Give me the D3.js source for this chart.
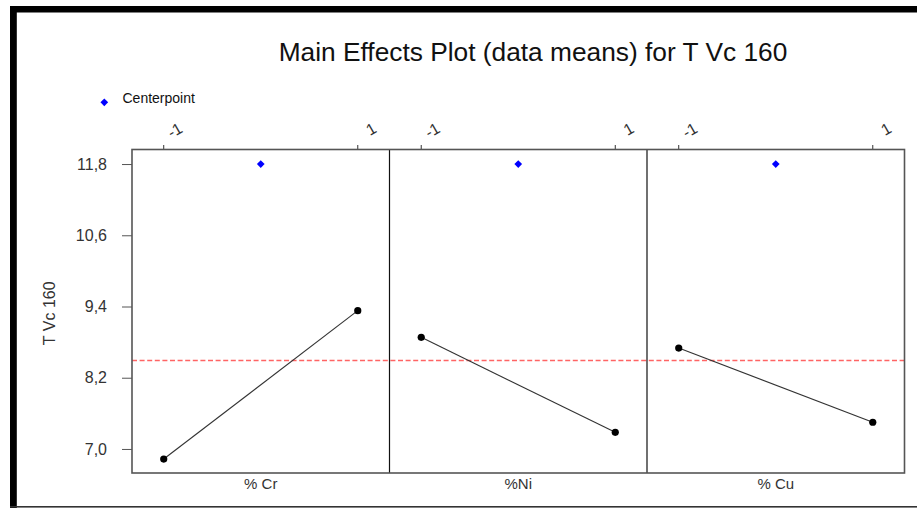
<!DOCTYPE html>
<html><head><meta charset="utf-8">
<script src="https://cdn.jsdelivr.net/npm/d3@7"></script>
<style>html,body{margin:0;padding:0;background:#fff;}svg{display:block;font-family:Arial,"Liberation Sans",sans-serif;}</style>
</head><body>
<svg id="chart" width="917" height="508"></svg>
<script>
const title = "Main Effects Plot (data means) for T Vc 160";
const yLabel = "T Vc 160";
const factors = ["% Cr", "%Ni", "% Cu"];
const levels = [-1, 1];
const levelLabels = ["-1", "1"];
const lowMeans = [6.83, 8.88, 8.70];
const highMeans = [9.33, 7.28, 7.45];
const centerpointMeans = [11.8, 11.8, 11.8];
const grandMean = 8.49;
const yTicks = [7.0, 8.2, 9.4, 10.6, 11.8];
const legendLabel = "Centerpoint";

(function () {
const svg = d3.select("#chart");
const W = 917, H = 508;
const pL = 132, pR = 904.5, pT = 149.5, pB = 473;

// frame
svg.append("rect").attr("x", 0).attr("y", 0).attr("width", W).attr("height", H).attr("fill", "#fff");
svg.append("rect").attr("x", 10).attr("y", 6).attr("width", W - 10).attr("height", 6.5).attr("fill", "#000");
svg.append("rect").attr("x", 10).attr("y", 6).attr("width", 6.8).attr("height", H - 6).attr("fill", "#000");
svg.append("rect").attr("x", 10).attr("y", 506).attr("width", W - 10).attr("height", 1.6).attr("fill", "#333");

const y = d3.scaleLinear().domain([6.595, 12.045]).range([pB, pT]);
const xBand = d3.scaleBand().domain(factors).range([pL, pR]);
const bw = xBand.bandwidth();
const xIn = d3.scaleLinear().domain([-1.327, 1.327]).range([0, bw]);

// title
svg.append("text").attr("x", 533).attr("y", 61).attr("text-anchor", "middle")
  .attr("font-size", 26.3).attr("fill", "#111").text(title);

// legend
const diamond = d3.symbol().type(d3.symbolDiamond2).size(38);
svg.append("path").attr("d", diamond).attr("transform", "translate(104.3,102.3)").attr("fill", "#0000ff");
svg.append("text").attr("x", 122.5).attr("y", 102.5).attr("font-size", 14).attr("fill", "#111").text(legendLabel);

// y axis label
svg.append("text").attr("transform", `translate(55,${(pT + pB) / 2 + 2}) rotate(-90)`)
  .attr("text-anchor", "middle").attr("font-size", 16).attr("fill", "#333").text(yLabel);

// y axis ticks
const yAxis = d3.axisLeft(y).tickValues(yTicks).tickSize(10).tickPadding(15)
  .tickFormat(d => d3.format(".1f")(d).replace(".", ","));
const ya = svg.append("g").attr("transform", `translate(${pL},0)`).call(yAxis);
ya.select(".domain").remove();
ya.selectAll("line").attr("stroke", "#555");
ya.selectAll("text").attr("font-size", 16).attr("fill", "#333").attr("font-family", "Arial, 'Liberation Sans', sans-serif");

// reference mean line
svg.append("line").attr("x1", pL).attr("x2", pR).attr("y1", y(grandMean)).attr("y2", y(grandMean))
  .attr("stroke", "#ff6464").attr("stroke-width", 1.6).attr("stroke-dasharray", "5,2.6");

// panels
factors.forEach((f, i) => {
  const x0 = xBand(f);
  const g = svg.append("g").attr("transform", `translate(${x0},0)`);
  levels.forEach((lv, j) => {
    g.append("line").attr("x1", xIn(lv)).attr("x2", xIn(lv)).attr("y1", pT - 4.5).attr("y2", pT).attr("stroke", "#333");
    g.append("text").attr("transform", `translate(${xIn(lv) + 20},131.5) rotate(-30)`)
      .attr("text-anchor", "end").attr("font-size", 16).attr("fill", "#333").text(levelLabels[j]);
  });
  const pts = [[levels[0], lowMeans[i]], [levels[1], highMeans[i]]];
  g.append("path").attr("d", d3.line().x(d => xIn(d[0])).y(d => y(d[1]))(pts))
    .attr("fill", "none").attr("stroke", "#333").attr("stroke-width", 1.1);
  g.selectAll("circle").data(pts).join("circle")
    .attr("cx", d => xIn(d[0])).attr("cy", d => y(d[1])).attr("r", 3.6).attr("fill", "#000");
  g.append("path").attr("d", diamond).attr("transform", `translate(${xIn(0)},${y(centerpointMeans[i])})`).attr("fill", "#0000ff");
  g.append("text").attr("x", bw / 2).attr("y", 488.5).attr("text-anchor", "middle")
    .attr("font-size", 15).attr("fill", "#333").text(f);
  if (i > 0) {
    svg.append("line").attr("x1", x0).attr("x2", x0).attr("y1", pT).attr("y2", pB).attr("stroke", "#111").attr("stroke-width", 1.2);
  }
});

svg.append("rect").attr("x", pL).attr("y", pT).attr("width", pR - pL).attr("height", pB - pT)
  .attr("fill", "none").attr("stroke", "#555").attr("stroke-width", 1.6);
})();
</script>
</body></html>
